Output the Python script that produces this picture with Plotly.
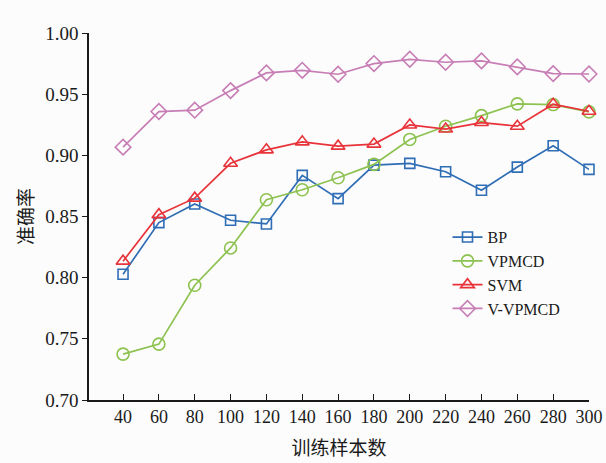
import plotly.graph_objects as go

samples = [40, 60, 80, 100, 120, 140, 160, 180, 200, 220, 240, 260, 280, 300]
bp = [0.8028, 0.8450, 0.8602, 0.8469, 0.8439, 0.8836, 0.8646, 0.8920, 0.8934, 0.8866, 0.8714, 0.8904, 0.9078, 0.8885]
vpmcd = [0.7375, 0.7457, 0.7938, 0.8243, 0.8637, 0.8719, 0.8817, 0.8926, 0.9130, 0.9238, 0.9325, 0.9421, 0.9415, 0.9355]
svm = [0.8135, 0.8515, 0.8650, 0.8935, 0.9045, 0.9110, 0.9075, 0.9092, 0.9248, 0.9215, 0.9268, 0.9238, 0.9418, 0.9360]
vvpmcd = [0.9067, 0.9358, 0.9369, 0.9529, 0.9674, 0.9695, 0.9663, 0.9750, 0.9785, 0.9761, 0.9772, 0.9723, 0.9668, 0.9665]

series_names = ["BP", "VPMCD", "SVM", "V-VPMCD"]
series_vals = [bp, vpmcd, svm, vvpmcd]
colors = ["#2f6db5", "#8dc250", "#e8333a", "#c77db5"]
symbols = ["square-open", "circle-open", "triangle-up-open", "diamond-open"]
sizes = [10, 12, 12, 12]

y_ticks = [0.70, 0.75, 0.80, 0.85, 0.90, 0.95, 1.00]

fig = go.Figure()
for name, vals, c, s, sz in zip(series_names, series_vals, colors, symbols, sizes):
    fig.add_trace(go.Scatter(
        x=samples, y=vals, name=name, mode="lines+markers", cliponaxis=False,
        line=dict(color=c, width=1.7),
        marker=dict(symbol=s, size=sz, color=c, line=dict(width=1.6, color=c)),
    ))

serif = "Liberation Serif, Times New Roman, serif"
cjk = "Noto Sans CJK SC"

fig.update_layout(
    width=606, height=463,
    margin=dict(l=89, r=17, t=33, b=63, autoexpand=False),
    paper_bgcolor="#fcfcfc", plot_bgcolor="#fcfcfc",
    font=dict(family=serif, size=19, color="#1a1a1a"),
    showlegend=True,
    legend=dict(
        x=0.717, y=0.49, xanchor="left", yanchor="top",
        bgcolor="rgba(0,0,0,0)", font=dict(family=serif, size=16, color="#1a1a1a"),
        tracegroupgap=0, itemwidth=30,
    ),
    xaxis=dict(
        range=[21, 300], tickvals=samples, ticktext=[str(v) for v in samples],
        showline=True, linecolor="#1a1a1a", linewidth=1.5,
        ticks="inside", ticklen=6, tickwidth=1.2, tickcolor="#1a1a1a",
        showgrid=False, zeroline=False, automargin=False,
        tickfont=dict(family=serif, size=18),
        title=dict(text="训练样本数", font=dict(family=cjk, size=19), standoff=15),
    ),
    yaxis=dict(
        range=[0.70, 1.00], tickvals=y_ticks, tickformat=".2f",
        showline=True, linecolor="#1a1a1a", linewidth=1.5,
        ticks="outside", ticklen=5, tickwidth=1.2, tickcolor="#1a1a1a",
        showgrid=False, zeroline=False, automargin=False,
        tickfont=dict(family=serif, size=19),
        title=dict(text="准确率", font=dict(family=cjk, size=19), standoff=7),
    ),
)

fig.write_html(
    "out.html",
    config={"displayModeBar": False},
    post_script="document.body.style.margin='0';document.body.style.overflow='hidden';document.body.style.background='#fcfcfc';",
)
